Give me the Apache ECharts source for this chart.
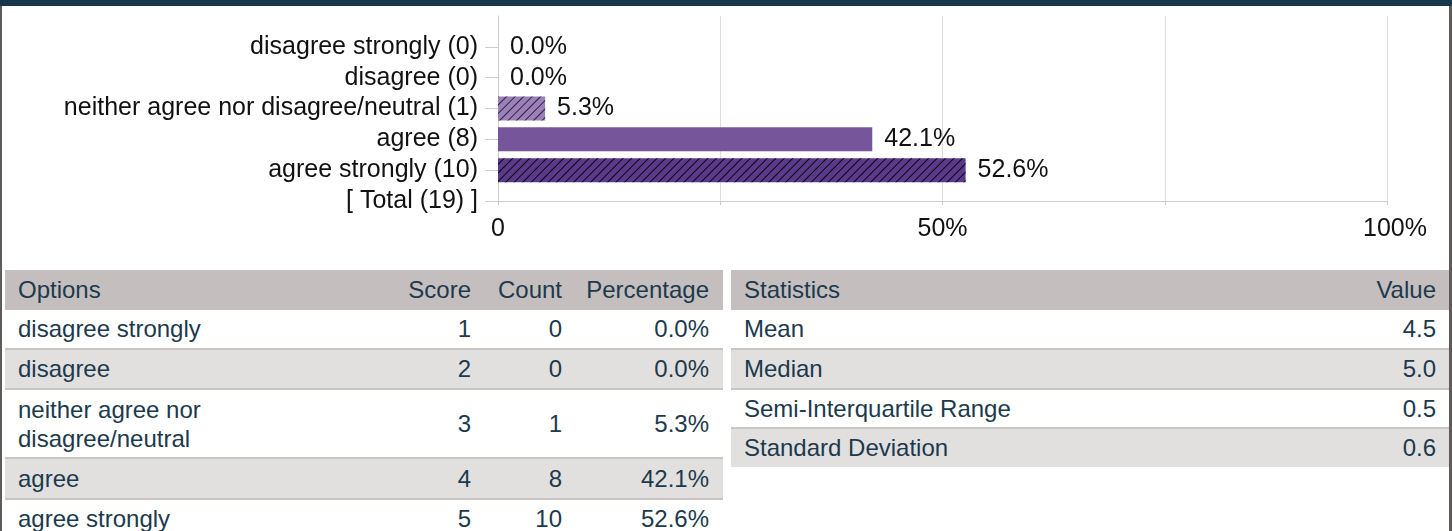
<!DOCTYPE html>
<html>
<head>
<meta charset="utf-8">
<script src="https://cdn.jsdelivr.net/npm/echarts@6/dist/echarts.min.js"></script>
<style>
  html, body { margin: 0; padding: 0; background: #fff; }
  body { width: 1452px; height: 531px; position: relative; overflow: hidden; font-family: "Liberation Sans", Arial, sans-serif; }
  #topbar { position: absolute; left: 0; top: 0; width: 1452px; height: 6px; background: #17374b; }
  #lborder { position: absolute; left: 0; top: 6px; width: 2px; height: 525px; background: #615a5a; }
  #rborder { position: absolute; left: 1449px; top: 6px; width: 3px; height: 525px; background: #615a5a; }
  #chart { position: absolute; left: 0; top: 0; width: 1452px; height: 262px; }
  .row { position: absolute; box-sizing: border-box; color: #1c3a4d; font-size: 24px; }
  .cell { position: absolute; top: 0; bottom: 0; display: flex; align-items: center; white-space: nowrap; }
  .cell.wrap { white-space: normal; line-height: 29px; }
</style>
</head>
<body>
<div id="chart"></div>
<div id="tables"></div>
<div id="topbar"></div>
<div id="lborder"></div>
<div id="rborder"></div>
<script>
// ---- chart data ----
const categories = ['disagree strongly (0)', 'disagree (0)', 'neither agree nor disagree/neutral (1)', 'agree (8)', 'agree strongly (10)', '[ Total (19) ]'];
const percentages = [0.0, 0.0, 5.3, 42.1, 52.6, null];
const xTickValues = [0, 25, 50, 75, 100];
const xTickLabels = ['0', '', '50%', '', '100%'];

// ---- table data ----
const optionNames = ['disagree strongly', 'disagree', 'neither agree nor disagree/neutral', 'agree', 'agree strongly'];
const optionScores = [1, 2, 3, 4, 5];
const optionCounts = [0, 0, 1, 8, 10];
const optionPercent = ['0.0%', '0.0%', '5.3%', '42.1%', '52.6%'];
const statNames = ['Mean', 'Median', 'Semi-Interquartile Range', 'Standard Deviation'];
const statValues = ['4.5', '5.0', '0.5', '0.6'];

// ---- styles ----
const hatch = (c) => ({ symbol: 'rect', symbolSize: 1, dashArrayX: [1, 0], dashArrayY: [1, 5], rotation: -Math.PI / 4, color: c });
const barStyles = [
  null, null,
  { color: '#9a82b7', decal: hatch('rgba(30,15,50,0.85)') },
  { color: '#76559b' },
  { color: '#5b3a8c', decal: hatch('rgba(0,0,0,0.9)') },
  null
];

const yData = categories.slice().reverse().concat(['']);
const seriesData = percentages.map((v, i) => {
  if (v === null) return { value: null };
  const d = { value: v };
  if (barStyles[i]) d.itemStyle = barStyles[i];
  return d;
}).reverse().concat([{ value: null }]);

const FONT = 'Liberation Sans';
const chart = echarts.init(document.getElementById('chart'), null, { renderer: 'canvas' });
chart.setOption({
  animation: false,
  grid: { left: 498, right: 65, top: 16, height: 185, outerBoundsMode: 'none', containLabel: false },
  xAxis: {
    type: 'value', min: 0, max: 100, interval: 25,
    axisLine: { show: true, lineStyle: { color: '#cccccc', width: 1 } },
    axisTick: { show: true, length: 4, lineStyle: { color: '#cccccc' } },
    splitLine: { show: true, lineStyle: { color: '#dedede', width: 1 } },
    axisLabel: {
      margin: 16, color: '#111', fontSize: 25, fontFamily: FONT,
      formatter: v => {
        const i = xTickValues.indexOf(v);
        if (i < 0 || !xTickLabels[i]) return '';
        return i === xTickValues.length - 1 ? '{last|' + xTickLabels[i] + '}' : xTickLabels[i];
      },
      rich: { last: { fontSize: 25, fontFamily: FONT, color: '#111', padding: [0, 0, 0, 16] } }
    }
  },
  yAxis: {
    type: 'category', data: yData, boundaryGap: false,
    axisLine: { show: true, lineStyle: { color: '#cccccc', width: 1 } },
    axisTick: { show: true, length: 13, interval: (idx) => idx < yData.length - 1, lineStyle: { color: '#cccccc' } },
    splitLine: { show: false },
    axisLabel: { margin: 20, color: '#111', fontSize: 25, fontFamily: FONT, interval: 0 }
  },
  series: [{
    type: 'bar', data: seriesData, barWidth: 24,
    itemStyle: { color: '#76559b' },
    label: {
      show: true, position: 'right', distance: 12, color: '#111', fontSize: 25, fontFamily: FONT,
      formatter: p => (p.value === null || p.value === undefined) ? '' : p.value.toFixed(1) + '%'
    }
  }]
});

// ---- tables ----
const HEAD_BG = '#c4bebe', GRAY_BG = '#e2e0df', WHITE_BG = '#ffffff', SEP = '#cac5c5';
const tables = document.getElementById('tables');
function addRow(left, width, top, height, bg, sep, cells) {
  const r = document.createElement('div');
  r.className = 'row';
  r.style.left = left + 'px'; r.style.width = width + 'px';
  r.style.top = top + 'px'; r.style.height = height + 'px';
  r.style.background = bg;
  if (sep) r.style.borderTop = '2px solid ' + SEP;
  cells.forEach(c => {
    const s = document.createElement('div');
    s.className = 'cell' + (c.wrap ? ' wrap' : '');
    s.textContent = c.text;
    if (c.left !== undefined) s.style.left = c.left + 'px';
    if (c.right !== undefined) { s.style.right = c.right + 'px'; s.style.justifyContent = 'flex-end'; }
    if (c.width) s.style.width = c.width + 'px';
    r.appendChild(s);
  });
  tables.appendChild(r);
}
// table 1
const T1L = 5, T1W = 718;
const t1Cols = (a, b, c, d, wrap) => [
  { text: a, left: 13, width: wrap ? 232 : undefined, wrap: wrap },
  { text: b, right: 723 - 471 },
  { text: c, right: 723 - 562 },
  { text: d, right: 723 - 709 }
];
addRow(T1L, T1W, 270, 40, HEAD_BG, false, t1Cols('Options', 'Score', 'Count', 'Percentage'));
const t1Rows = [[310, 38], [348, 40], [388, 69], [457, 41], [498, 40]];
optionNames.forEach((n, i) => {
  addRow(T1L, T1W, t1Rows[i][0], t1Rows[i][1], i % 2 ? GRAY_BG : WHITE_BG, i > 0,
    t1Cols(n, String(optionScores[i]), String(optionCounts[i]), optionPercent[i], i === 2));
});
// table 2
const T2L = 731, T2W = 718;
addRow(T2L, T2W, 270, 40, HEAD_BG, false, [{ text: 'Statistics', left: 13 }, { text: 'Value', right: 13 }]);
const t2Rows = [[310, 38], [348, 40], [388, 39], [427, 40]];
statNames.forEach((n, i) => {
  addRow(T2L, T2W, t2Rows[i][0], t2Rows[i][1], i % 2 ? GRAY_BG : WHITE_BG, i > 0,
    [{ text: n, left: 13 }, { text: statValues[i], right: 13 }]);
});
</script>
</body>
</html>
